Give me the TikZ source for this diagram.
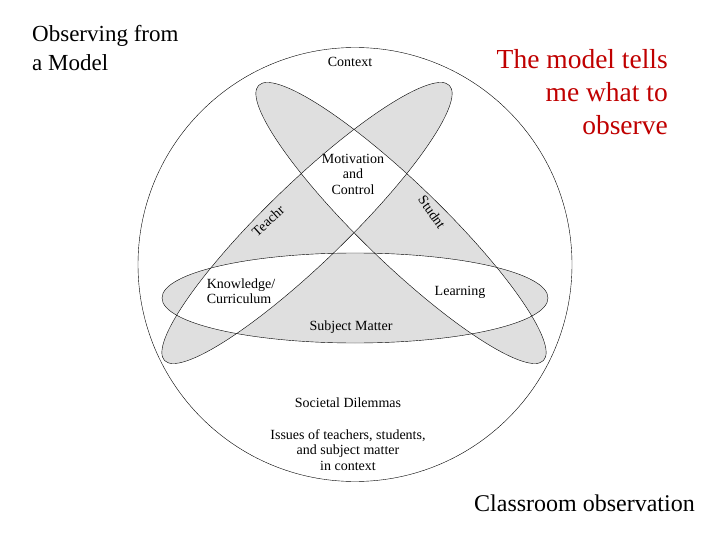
\documentclass[tikz,border=0pt]{standalone}
\usepackage{fontspec}
\setmainfont{Liberation Serif}
\begin{document}
\begin{tikzpicture}[x=1pt,y=-1pt,
  lbl/.style={font=\fontsize{14}{15.5}\selectfont,align=center,inner sep=0pt},
  big/.style={font=\fontsize{23}{29}\selectfont,inner sep=0pt}]
\useasboundingbox (0,0) rectangle (720,540);
\fill[white] (0,0) rectangle (720,540);
\draw[thin] (355,264.5) circle (217);
\fill[gray!25,even odd rule]
  (401,223) ellipse[x radius=198,y radius=40,rotate=-44]
  (307,223) ellipse[x radius=198,y radius=40,rotate=44]
  (355,298) ellipse[x radius=193,y radius=45];
\draw[thin] (401,223) ellipse[x radius=198,y radius=40,rotate=-44];
\draw[thin] (307,223) ellipse[x radius=198,y radius=40,rotate=44];
\draw[thin] (355,298) ellipse[x radius=193,y radius=45];
\node[lbl] (ctx) at (350,62) {Context};
\node[lbl] (mot) at (353,174) {Motivation\\and\\Control};
\node[lbl,rotate=42] (tea) at (268,221) {Teachr};
\node[lbl,rotate=-55] (stu) at (432,212) {Studnt};
\node[lbl,align=left] (kno) at (241,291) {Knowledge/\\Curriculum};
\node[lbl] (lea) at (460,292) {Learning};
\node[lbl] (sub) at (351,327) {Subject Matter};
\node[lbl] (soc) at (348,403) {Societal Dilemmas};
\node[lbl] (iss) at (348,450) {Issues of teachers, students,\\and subject matter\\in context};
\node[big,anchor=north west,align=left] (obs) at (32,25) {Observing from\\a Model};
\node[big,anchor=north east,align=right,text={rgb,255:red,192;green,0;blue,0},font=\fontsize{27.5}{33}\selectfont] (mod) at (668,49) {The model tells\\me what to\\observe};
\node[big,anchor=east,font=\fontsize{24}{29}\selectfont] (cla) at (695,503) {Classroom observation};
\end{tikzpicture}
\end{document}
